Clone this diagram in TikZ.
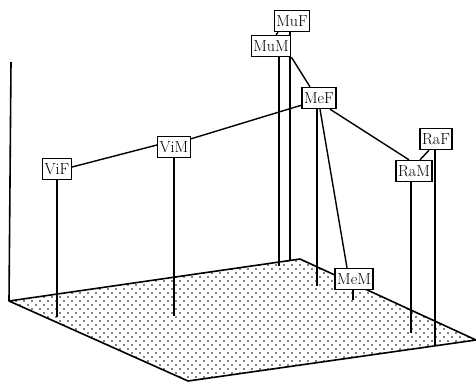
\documentclass[tikz,border=0pt]{standalone}
\usetikzlibrary{patterns,backgrounds}
\pgfdeclarepatternformonly{sparsedots}{\pgfqpoint{-1pt}{-1pt}}{\pgfqpoint{9pt}{9pt}}{\pgfqpoint{8pt}{8pt}}{%
  \pgfpathcircle{\pgfqpoint{0pt}{0pt}}{0.8pt}%
  \pgfpathcircle{\pgfqpoint{4pt}{4pt}}{0.8pt}%
  \pgfusepath{fill}}
\begin{document}
\begin{tikzpicture}[x=1pt,y=-1pt,
  lbl/.style={draw,line width=1.4pt,fill=white,font=\fontsize{16}{18}\selectfont,
    minimum height=21pt,inner xsep=2pt,inner ysep=0pt},
  conn/.style={line width=1.4pt},
  stem/.style={line width=1.3pt},
  edge/.style={line width=1.6pt,line join=round}]
\useasboundingbox (0,0) rectangle (476,381);
% nodes
\node[lbl] (muf) at (292,21) {MuF};
\node[lbl] (mum) at (271,46) {MuM};
\node[lbl] (mef) at (319,98) {MeF};
\node[lbl] (vif) at (57,169) {ViF};
\node[lbl] (vim) at (174,147) {ViM};
\node[lbl] (ram) at (414,171) {RaM};
\node[lbl] (raf) at (436,139) {RaF};
\node[lbl] (mem) at (354,279) {MeM};
\begin{scope}[on background layer]
% floor corners
\coordinate (fl) at (9,301);
\coordinate (fb) at (300,259);
\coordinate (fr) at (476,340);
\coordinate (ff) at (188,381);
\coordinate (ax) at (11,62);
\fill[pattern=sparsedots] (fl) -- (fb) -- (fr) -- (ff) -- cycle;
\draw[edge] (fl) -- (fb) -- (fr) -- (ff) -- cycle;
\draw[edge] (ax) -- (fl);
% stem foot points
\coordinate (vifb) at (57,317);
\coordinate (vimb) at (174,316);
\coordinate (mumb) at (279,266);
\coordinate (mufb) at (290,260);
\coordinate (mefb) at (317,286);
\coordinate (memb) at (353,300);
\coordinate (ramb) at (411,333);
\coordinate (rafb) at (435,345);
% stems
\draw[stem] (vif.south -| vifb) -- (vifb);
\draw[stem] (vim.south -| vimb) -- (vimb);
\draw[stem] (mum.south -| mumb) -- (mumb);
\draw[stem] (muf.south -| mufb) -- (mufb);
\draw[stem] (mef.south -| mefb) -- (mefb);
\draw[stem] (mem.south -| memb) -- (memb);
\draw[stem] (ram.south -| ramb) -- (ramb);
\draw[stem] (raf.south -| rafb) -- (rafb);
% connectors
\draw[conn] ([xshift=-14pt]muf.south) -- ([xshift=5pt]mum.north);
\draw[conn] (mum.south east) -- ([xshift=-9pt]mef.north);
\draw[conn] ([yshift=4pt]mef.south west) -- ([yshift=-3pt]vim.north east);
\draw[conn] ([yshift=2pt]vim.west) -- ([yshift=2pt]vif.east);
\draw[conn] ([xshift=11pt]mef.south) -- ([xshift=-5pt]ram.north);
\draw[conn] ([xshift=6pt]ram.north) -- ([xshift=-7pt]raf.south);
\draw[conn] ([xshift=1pt]mef.south) -- ([xshift=-7pt]mem.north);
\end{scope}
\end{tikzpicture}
\end{document}
